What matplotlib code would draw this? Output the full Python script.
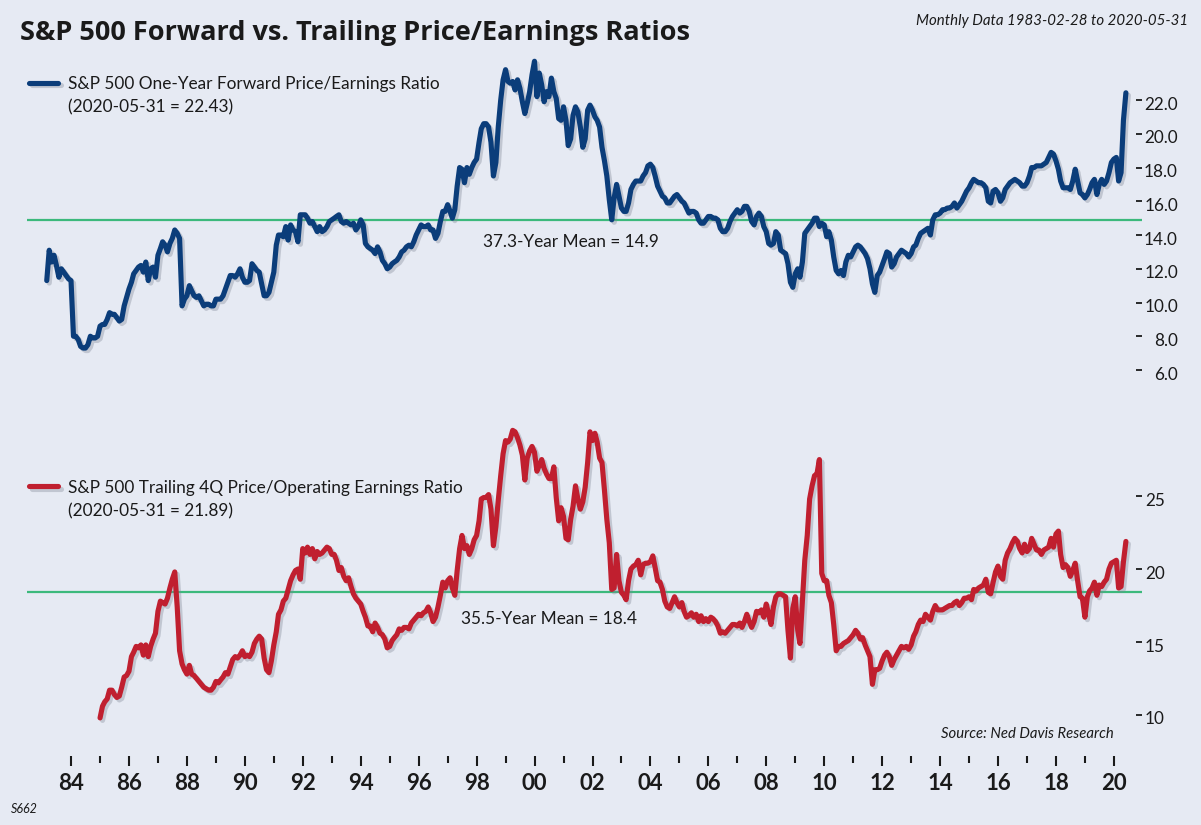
import matplotlib
matplotlib.use('Agg')
import matplotlib.pyplot as plt
import matplotlib.dates as mdates
import matplotlib.patheffects as pe
from matplotlib.lines import Line2D
from matplotlib.ticker import FixedLocator
from matplotlib.transforms import ScaledTranslation
import pandas as pd

# S&P 500 one-year forward P/E, monthly 1983-02 .. 2020-05
fwd_pe = [
    11.3, 13.1, 12.4, 12.8, 12.2, 11.5, 12.0, 11.8, 11.6, 11.4, 11.3,          # 1983 (Feb-Dec)
    8.0, 8.0, 7.8, 7.4, 7.3, 7.3, 7.5, 8.0, 7.9, 7.9, 8.0, 8.6,                 # 1984
    8.7, 8.7, 9.0, 9.4, 9.3, 9.3, 9.1, 8.9, 9.0, 9.8, 10.3, 10.8,               # 1985
    11.2, 11.7, 11.9, 12.1, 12.2, 11.8, 12.4, 11.3, 12.0, 12.1, 11.5, 12.8,     # 1986
    13.2, 13.6, 13.4, 13.0, 13.5, 13.8, 14.3, 14.1, 13.8, 9.8, 10.2, 10.4,      # 1987
    11.0, 10.7, 10.4, 10.3, 10.4, 10.1, 9.8, 9.9, 9.9, 9.8, 9.8, 10.2,          # 1988
    10.2, 10.2, 10.4, 10.8, 11.2, 11.6, 11.6, 11.5, 11.7, 12.0, 11.5, 11.2,     # 1989
    11.2, 11.3, 12.3, 12.1, 11.9, 11.8, 11.1, 10.4, 10.4, 10.6, 11.2, 11.8,     # 1990
    13.4, 14.0, 14.0, 13.9, 14.5, 13.7, 14.6, 14.3, 14.2, 13.6, 15.2, 15.2,     # 1991
    15.2, 15.0, 14.7, 14.8, 14.5, 14.2, 14.5, 14.2, 14.3, 14.5, 14.8, 14.9,     # 1992
    15.0, 15.1, 15.2, 14.8, 14.7, 14.8, 14.7, 14.6, 14.7, 14.3, 14.5, 14.9,     # 1993
    14.6, 13.5, 13.3, 13.2, 13.1, 12.9, 13.3, 13.0, 12.5, 12.3, 12.0, 12.1,     # 1994
    12.3, 12.4, 12.5, 12.7, 13.0, 13.1, 13.3, 13.4, 13.3, 13.6, 14.0, 14.3,     # 1995
    14.6, 14.5, 14.5, 14.6, 14.3, 14.3, 13.8, 14.1, 14.8, 15.4, 15.4, 15.8,     # 1996
    15.4, 15.0, 15.5, 16.9, 18.0, 17.9, 17.1, 18.0, 17.6, 18.0, 18.3, 18.5,     # 1997
    19.5, 20.3, 20.6, 20.6, 20.4, 19.5, 17.5, 18.3, 20.4, 22.0, 23.2, 23.8,     # 1998
    23.1, 23.0, 23.1, 22.6, 23.2, 22.7, 21.9, 21.2, 21.8, 22.5, 23.5, 24.3,     # 1999
    22.2, 23.6, 22.9, 21.9, 22.5, 22.2, 23.3, 22.5, 22.1, 20.9, 20.8, 21.6,     # 2000
    20.8, 19.3, 19.7, 21.1, 21.6, 21.3, 20.4, 19.2, 19.7, 21.4, 21.7, 21.4,     # 2001
    21.0, 20.8, 20.4, 19.2, 18.4, 17.5, 16.1, 14.9, 16.2, 17.0, 16.3, 15.6,     # 2002
    15.4, 15.4, 15.9, 16.7, 17.0, 17.2, 17.2, 17.2, 17.5, 17.7, 18.1, 18.2,     # 2003
    18.0, 17.5, 16.9, 16.6, 16.3, 16.2, 15.9, 15.9, 16.1, 16.3, 16.4, 16.2,     # 2004
    16.0, 15.9, 15.6, 15.3, 15.4, 15.4, 15.3, 14.9, 14.7, 14.7, 14.9, 15.1,     # 2005
    15.1, 15.0, 15.0, 14.9, 14.4, 14.2, 14.2, 14.4, 14.8, 15.1, 15.3, 15.5,     # 2006
    15.3, 15.4, 15.7, 15.7, 15.4, 14.8, 14.6, 15.1, 15.3, 15.1, 14.5, 14.2,     # 2007
    13.5, 13.4, 13.5, 14.2, 14.0, 13.1, 13.0, 12.9, 12.3, 11.2, 10.9, 11.7,     # 2008
    12.0, 11.5, 12.4, 14.1, 14.3, 14.5, 14.7, 15.0, 15.0, 14.5, 14.7, 14.6,     # 2009
    13.9, 14.2, 13.7, 12.7, 11.9, 11.7, 11.9, 11.6, 12.4, 12.8, 12.7, 13.0,     # 2010
    13.3, 13.4, 13.3, 13.1, 12.9, 12.6, 12.0, 11.1, 10.6, 11.6, 11.8, 12.2,     # 2011
    12.6, 13.0, 12.9, 12.1, 12.3, 12.7, 12.9, 13.1, 13.0, 12.9, 12.7, 12.9,     # 2012
    13.3, 13.4, 13.8, 14.1, 14.2, 14.3, 14.4, 14.0, 14.9, 15.2, 15.2, 15.3,     # 2013
    15.5, 15.5, 15.6, 15.6, 15.7, 15.9, 15.6, 15.8, 16.0, 16.3, 16.6, 16.8,     # 2014
    17.1, 17.3, 17.2, 17.1, 17.1, 17.0, 16.8, 16.0, 15.9, 16.6, 16.7, 16.5,     # 2015
    16.0, 16.2, 16.7, 16.9, 17.1, 17.2, 17.3, 17.2, 17.1, 16.9, 16.9, 17.1,     # 2016
    17.5, 18.0, 18.0, 18.1, 18.1, 18.1, 18.2, 18.3, 18.6, 18.9, 18.8, 18.4,     # 2017
    17.9, 17.2, 16.8, 16.8, 16.8, 16.7, 17.2, 17.9, 17.2, 16.5, 16.4, 16.2,     # 2018
    16.4, 16.7, 17.1, 17.3, 16.4, 17.0, 17.3, 17.0, 17.2, 17.7, 18.3, 18.5,     # 2019
    18.6, 17.2, 17.7, 20.8, 22.43,                                              # 2020 (Jan-May)
]

# S&P 500 trailing 4Q price / operating earnings, monthly 1984-12 .. 2020-05
trail_pe = [
    9.8,                                                                        # 1984 (Dec)
    10.6, 10.9, 11.1, 11.7, 11.7, 11.4, 11.2, 11.3, 11.9, 12.6, 12.7, 13.0,     # 1985
    14.0, 14.3, 14.7, 14.6, 14.8, 14.1, 14.8, 14.0, 14.7, 15.2, 15.6, 17.1,     # 1986
    17.8, 17.7, 17.6, 18.0, 18.7, 19.3, 19.8, 17.4, 14.4, 13.5, 13.1, 12.8,     # 1987
    13.4, 12.8, 12.7, 12.5, 12.3, 12.1, 11.9, 11.8, 11.7, 11.7, 11.9, 12.3,     # 1988
    12.2, 12.4, 12.6, 12.9, 12.8, 13.3, 13.8, 14.0, 13.9, 14.1, 14.4, 14.0,     # 1989
    14.1, 14.0, 14.3, 14.9, 15.2, 15.4, 15.2, 13.9, 13.1, 12.9, 13.7, 14.8,     # 1990
    15.7, 16.9, 17.2, 17.8, 18.0, 18.6, 19.2, 19.6, 19.9, 20.0, 19.3, 21.4,     # 1991
    21.1, 21.5, 21.0, 21.4, 20.7, 21.2, 21.0, 21.1, 21.3, 21.5, 21.4, 21.0,     # 1992
    21.0, 20.6, 19.9, 20.1, 19.5, 19.2, 19.4, 18.8, 18.3, 18.0, 17.8, 17.6,     # 1993
    17.1, 16.7, 16.1, 16.1, 15.7, 16.3, 16.0, 15.6, 15.5, 15.2, 14.6, 14.7,     # 1994
    15.1, 15.3, 15.5, 15.9, 15.8, 16.0, 16.0, 15.9, 16.3, 16.5, 16.7, 16.9,     # 1995
    16.8, 17.0, 17.1, 17.4, 17.0, 16.4, 16.7, 17.4, 18.2, 19.1, 18.7, 19.2,     # 1996
    19.4, 18.7, 18.2, 19.9, 21.4, 22.3, 21.4, 21.6, 21.0, 21.4, 22.0, 22.3,     # 1997
    23.3, 24.8, 24.9, 24.9, 25.1, 24.1, 21.6, 22.9, 24.7, 26.4, 27.9, 28.8,     # 1998
    28.7, 28.9, 29.5, 29.4, 29.0, 28.5, 27.8, 26.1, 27.6, 28.1, 28.4, 28.0,     # 1999
    26.7, 27.1, 27.5, 26.9, 26.5, 26.2, 26.2, 27.0, 24.9, 23.3, 24.2, 23.6,     # 2000
    22.1, 22.0, 23.4, 24.3, 25.7, 24.8, 24.1, 24.6, 25.6, 27.3, 29.4, 28.8,     # 2001
    29.3, 28.7, 27.6, 27.3, 25.4, 23.4, 21.8, 18.6, 18.7, 21.0, 19.2, 18.4,     # 2002
    18.2, 17.9, 19.2, 20.0, 20.2, 20.3, 20.6, 19.6, 20.3, 20.4, 20.4, 20.5,     # 2003
    20.9, 20.1, 19.2, 19.1, 18.6, 17.8, 17.4, 17.3, 17.7, 18.1, 17.7, 17.4,     # 2004
    17.7, 17.1, 16.7, 16.8, 17.0, 16.7, 16.9, 16.4, 16.8, 16.4, 16.6, 16.4,     # 2005
    16.7, 16.6, 16.4, 16.1, 15.6, 15.7, 15.6, 15.8, 16.0, 16.2, 16.2, 16.1,     # 2006
    16.3, 16.0, 16.4, 16.9, 16.4, 16.0, 16.4, 17.1, 17.0, 17.2, 16.7, 17.6,     # 2007
    16.9, 16.2, 17.4, 18.1, 18.3, 18.3, 18.2, 18.1, 15.8, 13.9, 17.3, 18.1,     # 2008
    15.8, 14.9, 17.8, 20.6, 22.3, 24.8, 25.7, 26.4, 26.5, 27.5, 19.7, 19.2,     # 2009
    19.2, 18.2, 17.7, 16.2, 14.4, 14.7, 14.7, 14.9, 15.0, 15.1, 15.3, 15.5,     # 2010
    15.8, 15.6, 15.2, 15.3, 14.8, 14.4, 14.0, 12.1, 13.1, 13.1, 13.2, 13.7,     # 2011
    14.1, 14.3, 14.0, 13.4, 13.8, 14.1, 14.4, 14.7, 14.6, 14.7, 14.5, 14.8,     # 2012
    15.4, 15.7, 16.2, 16.5, 16.4, 16.9, 16.7, 16.5, 17.1, 17.5, 17.2, 17.2,     # 2013
    17.2, 17.3, 17.4, 17.5, 17.5, 17.7, 17.8, 17.5, 17.7, 18.0, 18.0, 18.1,     # 2014
    17.9, 18.6, 18.5, 18.7, 18.8, 18.9, 19.3, 18.4, 18.3, 19.1, 19.8, 20.2,     # 2015
    19.5, 19.3, 20.6, 21.1, 21.4, 21.8, 22.1, 21.9, 21.4, 21.1, 21.7, 21.2,     # 2016
    21.4, 22.1, 21.7, 21.3, 21.3, 21.0, 21.3, 21.4, 21.5, 22.1, 21.5, 22.4,     # 2017
    22.6, 21.0, 20.1, 20.3, 20.1, 19.5, 19.9, 20.4, 19.2, 18.1, 18.0, 16.7,     # 2018
    18.1, 18.5, 18.7, 19.1, 18.2, 18.9, 18.8, 19.1, 19.3, 20.0, 20.4, 20.5,     # 2019
    20.6, 18.7, 18.8, 20.5, 21.89,                                              # 2020 (Jan-May)
]

fwd_mean = 14.9
trail_mean = 18.4
fwd_ticks = [6, 8, 10, 12, 14, 16, 18, 20, 22]
trail_ticks = [10, 15, 20, 25]
label_years = list(range(1984, 2021, 2))
minor_years = list(range(1985, 2020, 2))

fwd_label = 'S&P 500 One-Year Forward Price/Earnings Ratio'
fwd_last = '(2020-05-31 = 22.43)'
trail_label = 'S&P 500 Trailing 4Q Price/Operating Earnings Ratio'
trail_last = '(2020-05-31 = 21.89)'

dates_fwd = pd.date_range('1983-02-28', '2020-05-31', freq='ME')
dates_trl = pd.date_range('1984-12-31', '2020-05-31', freq='ME')

W, H = 1201, 825
BG = '#e6eaf3'
BLUE = '#0b3d7a'
RED = '#c01f2f'
GREEN = '#3cb97c'
TXT = '#1a1a1a'
FONT = 'Lato'

def fx(px):
    return px / W

def fy(py):
    return 1 - py / H

fig = plt.figure(figsize=(W / 100, H / 100), dpi=100, facecolor=BG)

left, right = 27, 1142
ax1 = fig.add_axes([fx(left), fy(390), (right - left) / W, (390 - 55) / H])
ax2 = fig.add_axes([fx(left), fy(756), (right - left) / W, (756 - 420) / H])

xlim = (pd.Timestamp('1982-06-24'), pd.Timestamp('2020-12-20'))
shadow = [pe.SimpleLineShadow(offset=(1.8, -1.8), shadow_color='#7d8494', alpha=0.35), pe.Normal()]

for ax in (ax1, ax2):
    ax.set_facecolor(BG)
    for s in ax.spines.values():
        s.set_visible(False)
    ax.set_xlim(*xlim)

# top panel
ax1.axhline(fwd_mean, color=GREEN, lw=1.6, zorder=1)
ax1.plot(dates_fwd, fwd_pe, color=BLUE, lw=3.7, solid_capstyle='round',
         solid_joinstyle='round', path_effects=shadow, zorder=3, clip_on=False)
ax1.set_ylim(4.815, 24.67)
ax1.set_yticks(fwd_ticks)
ax1.set_yticklabels(['%.1f' % v for v in fwd_ticks])
ax1.tick_params(axis='y', left=False, right=True, labelleft=False, labelright=True,
                direction='in', length=4, width=1.3, color=TXT, pad=25.9,
                labelsize=12.3, labelcolor=TXT)
ax1.tick_params(axis='x', bottom=False, labelbottom=False)
for lbl in ax1.get_yticklabels():
    lbl.set_horizontalalignment('right')
    lbl.set_fontfamily(FONT)

# bottom panel
ax2.axhline(trail_mean, color=GREEN, lw=1.6, zorder=1)
ax2.plot(dates_trl, trail_pe, color=RED, lw=3.7, solid_capstyle='round',
         solid_joinstyle='round', path_effects=shadow, zorder=3, clip_on=False)
ax2.set_ylim(7.19, 30.21)
ax2.set_yticks(trail_ticks)
ax2.set_yticklabels([str(v) for v in trail_ticks])
ax2.tick_params(axis='y', left=False, right=True, labelleft=False, labelright=True,
                direction='in', length=4, width=1.3, color=TXT, pad=2.2,
                labelsize=12.3, labelcolor=TXT)
for lbl in ax2.get_yticklabels():
    lbl.set_fontfamily(FONT)

ax2.xaxis.set_major_locator(FixedLocator(mdates.date2num([pd.Timestamp(y, 1, 1) for y in label_years])))
ax2.xaxis.set_minor_locator(FixedLocator(mdates.date2num([pd.Timestamp(y, 1, 1) for y in minor_years])))
ax2.xaxis.set_major_formatter(mdates.DateFormatter('%y'))
ax2.tick_params(axis='x', which='major', direction='out', length=7.2, width=1.5,
                color=TXT, pad=5, labelsize=16, labelcolor=TXT)
ax2.tick_params(axis='x', which='minor', direction='out', length=5, width=1.5, color=TXT)
for lbl in ax2.get_xticklabels():
    lbl.set_fontfamily(FONT)
    lbl.set_fontweight('bold')

# tick labels sit a little below their tick marks
down = ScaledTranslation(0, -3 / 100, fig.dpi_scale_trans)
for ax in (ax1, ax2):
    for lbl in ax.get_yticklabels():
        lbl.set_transform(lbl.get_transform() + down)

# legends
fig.add_artist(Line2D([fx(29), fx(58)], [fy(82.5)] * 2, color=BLUE, lw=3.7,
                      solid_capstyle='round', path_effects=shadow))
fig.text(fx(68), fy(88.5), fwd_label, fontsize=12.4, family=FONT, color=TXT, va='baseline')
fig.text(fx(68), fy(112), fwd_last, fontsize=12.4, family=FONT, color=TXT, va='baseline')

fig.add_artist(Line2D([fx(29), fx(58)], [fy(486)] * 2, color=RED, lw=3.7,
                      solid_capstyle='round', path_effects=shadow))
fig.text(fx(68), fy(493), trail_label, fontsize=12.4, family=FONT, color=TXT, va='baseline')
fig.text(fx(68), fy(516), trail_last, fontsize=12.4, family=FONT, color=TXT, va='baseline')

# mean labels
fig.text(fx(571), fy(247), '37.3-Year Mean = 14.9', fontsize=12.4, family=FONT,
         color=TXT, ha='center', va='baseline')
fig.text(fx(549), fy(624), '35.5-Year Mean = 18.4', fontsize=12.4, family=FONT,
         color=TXT, ha='center', va='baseline')

# titles and notes
fig.text(fx(20), fy(40), 'S&P 500 Forward vs. Trailing Price/Earnings Ratios',
         fontsize=19.5, fontweight='bold', family='Open Sans', color=TXT, va='baseline')
fig.text(fx(1188), fy(25), 'Monthly Data 1983-02-28 to 2020-05-31', fontsize=10.85,
         style='italic', family=FONT, color=TXT, ha='right', va='baseline')
fig.text(fx(1114), fy(738), 'Source: Ned Davis Research', fontsize=10.75, style='italic',
         family=FONT, color=TXT, ha='right', va='baseline')
fig.text(fx(11), fy(813), 'S662', fontsize=9, style='italic', family=FONT,
         color=TXT, ha='left', va='baseline')

fig.savefig('out.png', dpi=100, facecolor=BG)
